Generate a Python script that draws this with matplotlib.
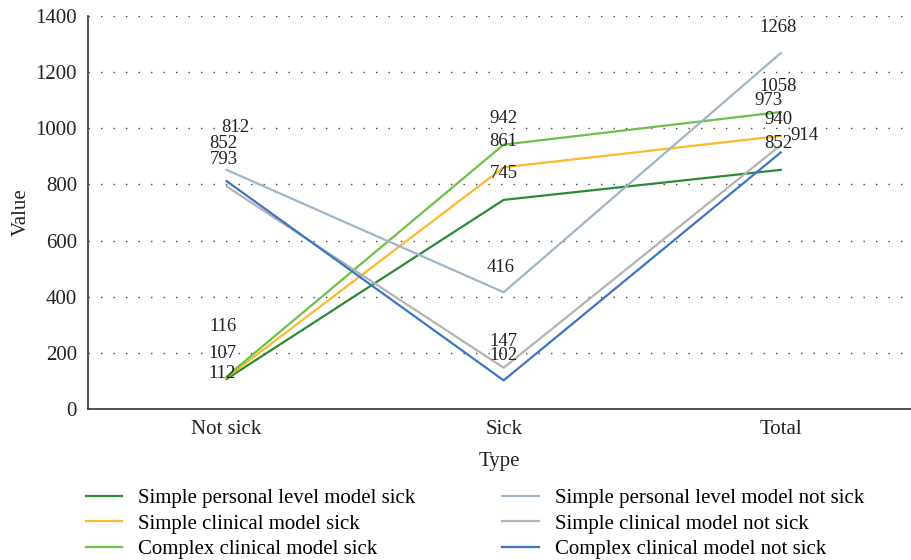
import matplotlib
matplotlib.use("Agg")
import matplotlib.pyplot as plt

plt.rcParams['font.family'] = ['Liberation Serif', 'DejaVu Serif']

types = ["Not sick", "Sick", "Total"]
series_names = [
    "Simple personal level model sick",
    "Simple clinical model sick",
    "Complex clinical model sick",
    "Simple personal level model not sick",
    "Simple clinical model not sick",
    "Complex clinical model not sick",
]
spl_sick = [107, 745, 852]
sc_sick = [112, 861, 973]
cc_sick = [116, 942, 1058]
spl_not = [852, 416, 1268]
sc_not = [793, 147, 940]
cc_not = [812, 102, 914]
values = [spl_sick, sc_sick, cc_sick, spl_not, sc_not, cc_not]

colors = ["#2a8a36", "#fdb92b", "#6cc04a", "#9fb6c9", "#b3b3b3", "#3b76c3"]

# label offsets in pixels (dx, dy) per series per category
offsets = [
    [(-4, 25), (0, 26), (-2, 26)],
    [(-4, 4), (0, 26), (-12, 35)],
    [(-4, 50), (0, 26), (-3, 26)],
    [(-3, 26), (-3, 25), (-3, 26)],
    [(-3, 27), (0, 26), (-2, 26)],
    [(9, 54), (0, 25), (24, 17)],
]

fig = plt.figure(figsize=(9.11, 5.6), dpi=100)
ax = fig.add_axes([0.0966, 0.2696, 0.9034, 0.7018])

x = list(range(len(types)))
for name, vals, c, offs in zip(series_names, values, colors, offsets):
    ax.plot(x, vals, color=c, lw=1.6, label=name)
    for xi, v, (dx, dy) in zip(x, vals, offs):
        ax.annotate(str(v), (xi, v), xytext=(dx, dy), textcoords='offset pixels',
                    ha='center', va='center', fontsize=13.5, color='#222222')

ax.set_xlim(-0.5, 2.47)
ax.set_ylim(0, 1400)
ax.set_yticks(range(0, 1401, 200))
ax.set_xticks(x)
ax.set_xticklabels(types)
ax.tick_params(length=0, labelsize=15, colors='#222222', pad=8)
ax.yaxis.grid(True, linestyle=(0, (1, 8)), color='#444444', lw=1)
ax.set_axisbelow(True)
for s in ['top', 'right']:
    ax.spines[s].set_visible(False)
for s in ['left', 'bottom']:
    ax.spines[s].set_color('#333333')
    ax.spines[s].set_linewidth(1.2)
ax.set_ylabel("Value", fontsize=15, color='#222222', labelpad=3)
ax.set_xlabel("Type", fontsize=15, color='#222222', labelpad=9)

fig.legend(loc='upper left', bbox_to_anchor=(0.094, 0.127), ncol=2, frameon=False,
           fontsize=15, handlelength=1.75, handletextpad=0.75, columnspacing=4.2,
           labelspacing=0.27, borderaxespad=0, borderpad=0)

fig.savefig("out.png", dpi=100)
